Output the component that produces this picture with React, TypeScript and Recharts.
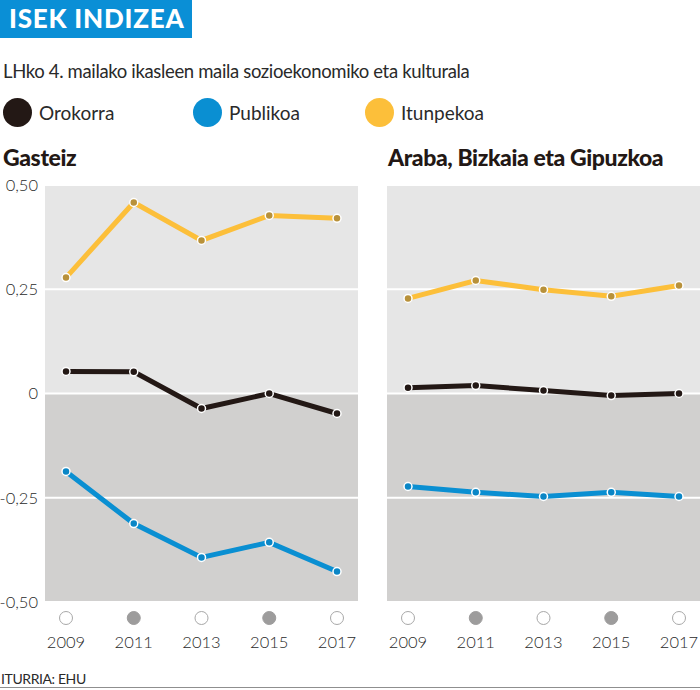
import { LineChart, Line, XAxis, YAxis, CartesianGrid } from "recharts";

const years = ["2009", "2011", "2013", "2015", "2017"];
const markedYears = ["2011", "2015"];
const yTicks = [-0.5, -0.25, 0, 0.25, 0.5];

const gasteizOrokorra = [0.053, 0.052, -0.036, 0.0, -0.048];
const gasteizPublikoa = [-0.187, -0.312, -0.393, -0.357, -0.427];
const gasteizItunpekoa = [0.278, 0.458, 0.367, 0.427, 0.42];

const eaeOrokorra = [0.014, 0.019, 0.007, -0.005, 0.0];
const eaePublikoa = [-0.223, -0.237, -0.247, -0.237, -0.247];
const eaeItunpekoa = [0.228, 0.271, 0.249, 0.233, 0.259];

const series = [
    { key: "orokorra", name: "Orokorra", color: "#231815", dot: "#231815" },
    { key: "publikoa", name: "Publikoa", color: "#0a8fd2", dot: "#0a86c6" },
    { key: "itunpekoa", name: "Itunpekoa", color: "#fcbf3a", dot: "#b8913a" },
];

const font = "Lato, 'Open Sans', sans-serif";

function buildRows(oro: number[], pub: number[], itu: number[]) {
    return years.map((year, i) => ({ year, orokorra: oro[i], publikoa: pub[i], itunpekoa: itu[i] }));
}

const fmt = (v: number) => (v === 0 ? "0" : v.toFixed(2).replace(".", ","));

function YearTick({ x, y, payload }: any) {
    const filled = markedYears.includes(payload.value);
    return (
        <g>
            <circle
                cx={x}
                cy={y + 14}
                r={6.5}
                fill={filled ? "#9d9c9c" : "#fff"}
                stroke={filled ? "#9d9c9c" : "#a8a8a8"}
                strokeWidth={1}
            />
            <text x={x} y={y + 44} textAnchor="middle" fontSize={16.5} fontWeight={300} fill="#2a2a2a" fontFamily={font}>
                {payload.value}
            </text>
        </g>
    );
}

function Panel({ data, width, showY }: { data: any[]; width: number; showY: boolean }) {
    return (
        <LineChart width={width} height={480} data={data} margin={{ top: 10, right: showY ? 2 : 0, bottom: 0, left: 0 }}>
            {/* upper half light, lower half darker; white lines on the ticks */}
            <CartesianGrid
                vertical={false}
                stroke="#fff"
                strokeWidth={2}
                fillOpacity={1}
                horizontalFill={["#e6e6e6", "#e6e6e6", "#d1d0cf", "#d1d0cf"]}
            />
            <XAxis
                dataKey="year"
                axisLine={false}
                tickLine={false}
                tickSize={0}
                interval={0}
                height={53}
                padding={{ left: 21, right: 21 }}
                tick={<YearTick />}
            />
            <YAxis
                type="number"
                domain={[-0.5, 0.5]}
                ticks={yTicks}
                hide={!showY}
                width={showY ? 45 : 0}
                axisLine={false}
                tickLine={false}
                tickSize={0}
                tickMargin={7}
                tickFormatter={fmt}
                tick={{ fontSize: 16.5, fontWeight: 300, fill: "#2a2a2a", fontFamily: font }}
            />
            {series.map((s) => (
                <Line
                    key={s.key}
                    type="linear"
                    dataKey={s.key}
                    stroke={s.color}
                    strokeWidth={5}
                    dot={{ r: 4, fill: s.dot, stroke: "#fff", strokeWidth: 1.5 }}
                    isAnimationActive={false}
                />
            ))}
        </LineChart>
    );
}

export default function App() {
    const gasteiz = buildRows(gasteizOrokorra, gasteizPublikoa, gasteizItunpekoa);
    const eae = buildRows(eaeOrokorra, eaePublikoa, eaeItunpekoa);
    const legendX = [3, 193, 365];

    return (
        <div style={{ position: "absolute", left: 0, top: 0, width: 700, height: 690, background: "#fff", fontFamily: font, overflow: "hidden" }}>
            <div style={{ position: "absolute", left: 0, top: 0, width: 192, height: 38, background: "#0a8fd6" }}>
                <div style={{ position: "absolute", left: 9, top: 2, color: "#fff", fontSize: 26, fontWeight: 900, letterSpacing: 0.8, fontFamily: "Lato, Roboto, sans-serif" }}>
                    ISEK INDIZEA
                </div>
            </div>
            <div style={{ position: "absolute", left: 3, top: 60, fontSize: 18.5, color: "#2a2a2a", letterSpacing: -0.35 }}>
                LHko 4. mailako ikasleen maila sozioekonomiko eta kulturala
            </div>
            {series.map((s, i) => (
                <div key={s.key} style={{ position: "absolute", left: legendX[i], top: 98, display: "flex", alignItems: "center" }}>
                    <div style={{ width: 29, height: 29, borderRadius: "50%", background: s.color }} />
                    <span style={{ marginLeft: 7, fontSize: 19, color: "#2a2a2a" }}>{s.name}</span>
                </div>
            ))}
            <div style={{ position: "absolute", left: 3, top: 143, fontSize: 23, fontWeight: 900, color: "#231815", letterSpacing: -0.4 }}>
                Gasteiz
            </div>
            <div style={{ position: "absolute", left: 388, top: 143, fontSize: 23, fontWeight: 900, color: "#231815", letterSpacing: -0.4 }}>
                Araba, Bizkaia eta Gipuzkoa
            </div>
            <div style={{ position: "absolute", left: 0, top: 175 }}>
                <Panel data={gasteiz} width={360} showY={true} />
            </div>
            <div style={{ position: "absolute", left: 387, top: 175 }}>
                <Panel data={eae} width={313} showY={false} />
            </div>
            <div style={{ position: "absolute", left: 1, top: 670, fontSize: 14, color: "#2a2a2a", letterSpacing: -0.4 }}>
                ITURRIA: EHU
            </div>
            <div style={{ position: "absolute", left: 0, top: 687, width: 700, height: 1, background: "#8f8f8f" }} />
        </div>
    );
}
